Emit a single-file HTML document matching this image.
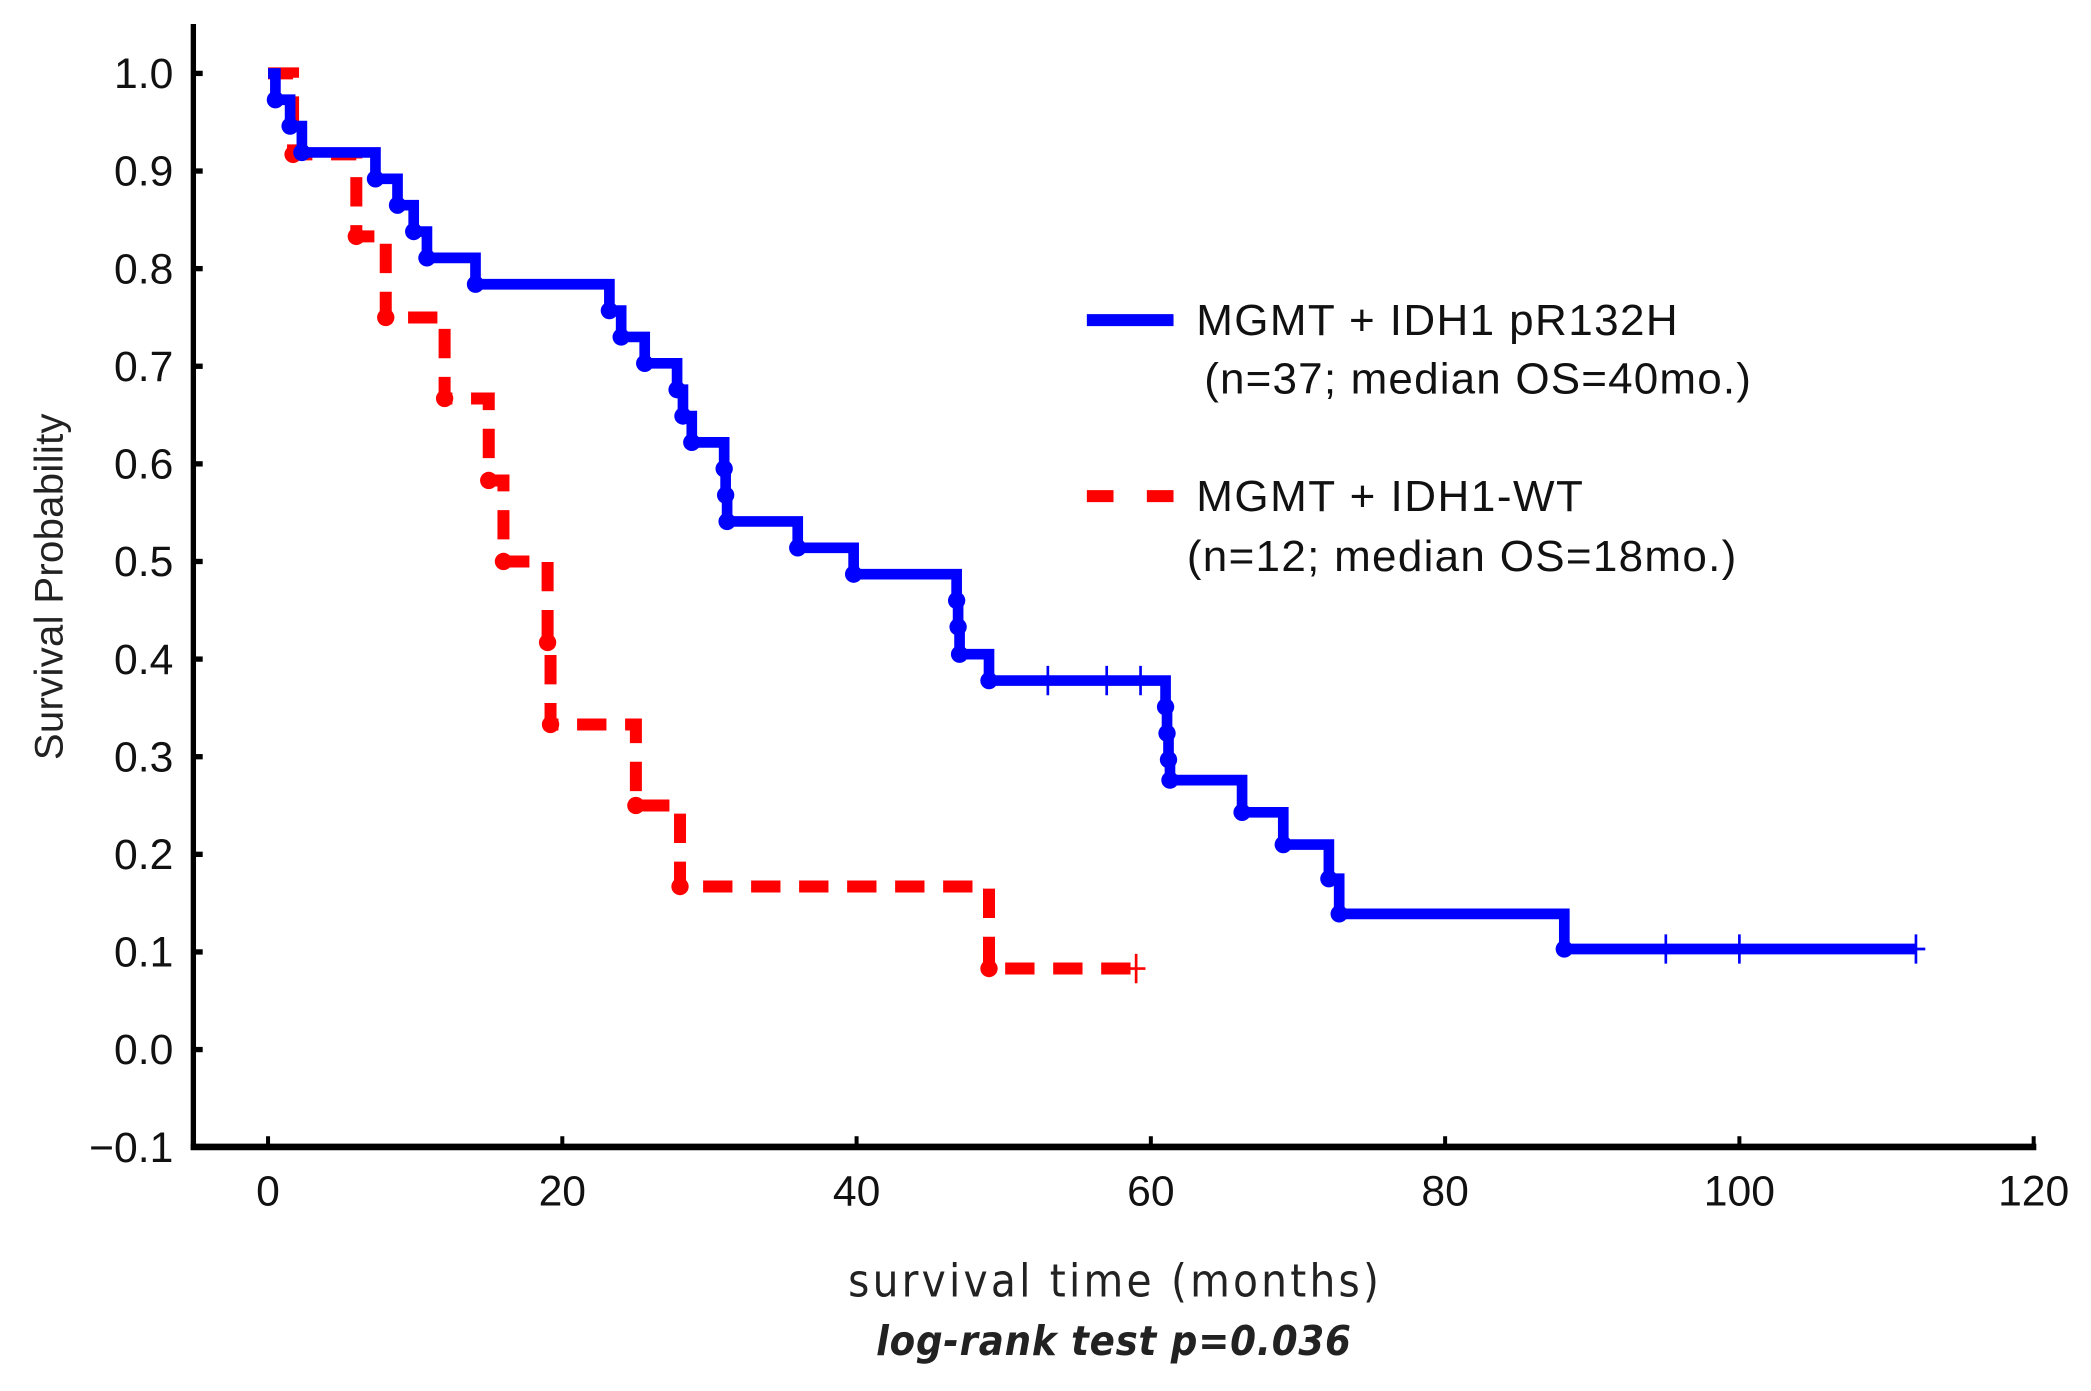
<!DOCTYPE html>
<html><head><meta charset="utf-8"><style>
html,body{margin:0;padding:0;background:#fff;}
svg{display:block;}
</style></head><body>
<svg id="chart" width="2091" height="1391" viewBox="0 0 1568 1043" xmlns="http://www.w3.org/2000/svg" font-family="'Liberation Sans', sans-serif">
<g id="axes"></g>
<g id="series"></g>
<g>
  <line x1="815" y1="240" x2="880" y2="240" stroke="#0000ff" stroke-width="9"/>
  <text x="897" y="251" font-size="33" fill="#111" textLength="361">MGMT + IDH1 pR132H</text>
  <text x="903" y="295" font-size="33" fill="#111" textLength="410">(n=37; median OS=40mo.)</text>
  <line x1="815" y1="372" x2="880" y2="372" stroke="#ff0000" stroke-width="9" stroke-dasharray="20 25"/>
  <text x="897" y="383" font-size="33" fill="#111" textLength="290">MGMT + IDH1-WT</text>
  <text x="890" y="428" font-size="33" fill="#111" textLength="412">(n=12; median OS=18mo.)</text>
</g>
<text transform="translate(47,440) rotate(-90)" text-anchor="middle" font-size="30" fill="#222" textLength="260">Survival Probability</text>
<text x="835" y="972" text-anchor="middle" font-size="34" fill="#222" font-family="'DejaVu Sans Condensed','Liberation Sans Narrow',sans-serif" textLength="398">survival time (months)</text>
<text x="835" y="1016" text-anchor="middle" font-size="31" font-weight="bold" font-style="italic" fill="#222" font-family="'DejaVu Sans Condensed','Liberation Sans Narrow',sans-serif" textLength="356">log-rank test p=0.036</text>
</svg>
<script>
const xTicks = [0,20,40,60,80,100,120];
const yTicks = [1.0,0.9,0.8,0.7,0.6,0.5,0.4,0.3,0.2,0.1,0.0,-0.1];
const blueTimes = [0,0.5,1.5,2.3,7.3,8.8,9.9,10.8,14.1,23.2,24,25.6,27.8,28.2,28.8,31,31.1,31.2,36,39.8,46.8,46.9,47,49,61,61.1,61.2,61.3,66.2,69,72.1,72.8,88.1];
const blueSurv  = [1,0.973,0.946,0.919,0.892,0.865,0.838,0.811,0.784,0.757,0.730,0.703,0.676,0.649,0.622,0.595,0.568,0.541,0.514,0.487,0.460,0.433,0.405,0.378,0.351,0.324,0.297,0.276,0.243,0.210,0.175,0.139,0.103];
const blueEnd = 112;
const blueCensor = [53,57,59.3,95,100,112];
const redTimes = [0,1.7,6,8,12,15,16,19,19.2,25,28,49];
const redSurv  = [1,0.917,0.833,0.75,0.667,0.583,0.5,0.417,0.333,0.25,0.167,0.083];
const redEnd = 59;
const redCensor = [59];

const NS='http://www.w3.org/2000/svg';
function X(t){return 201+(t-0)*(1525-201)/120;}
function Y(v){return 787-732*v;}
function mk(tag,attrs,parent){const e=document.createElementNS(NS,tag);for(const k in attrs)e.setAttribute(k,attrs[k]);parent.appendChild(e);return e;}
const axes=document.getElementById('axes'), series=document.getElementById('series');

let e=mk('line',{x1:145,y1:18,x2:145,y2:862,stroke:'#000','stroke-width':4},axes);


e=mk('line',{x1:143,y1:860,x2:1527,y2:860,stroke:'#000','stroke-width':5},axes);


yTicks.forEach(v=>{
  const t=mk('line',{x1:145,y1:Y(v),x2:152,y2:Y(v),stroke:'#000','stroke-width':4},axes);
  
  
  const l=mk('text',{x:130,y:Y(v)+11,'text-anchor':'end','font-size':32,fill:'#111'},axes);
  l.textContent=(v<0?'\u2212':'')+Math.abs(v).toFixed(1);
  
  
});
xTicks.forEach(v=>{
  const t=mk('line',{x1:X(v),y1:860,x2:X(v),y2:852,stroke:'#000','stroke-width':3},axes);
  
  
  const l=mk('text',{x:X(v),y:904,'text-anchor':'middle','font-size':32,fill:'#111'},axes);
  l.textContent=v;
  
  
});
function stepPath(times,surv,end){
  let d='M'+X(times[0])+','+Y(surv[0]);
  for(let i=1;i<times.length;i++){d+=' H'+X(times[i])+' V'+Y(surv[i]);}
  d+=' H'+X(end);return d;
}
function survAt(times,surv,t){let s=surv[0];for(let i=0;i<times.length;i++){if(times[i]<=t)s=surv[i];}return s;}
function drawSeries(times,surv,end,censor,color,dash,width,name){
  const p=mk('path',{d:stepPath(times,surv,end),fill:'none',stroke:color,'stroke-width':width,'stroke-linejoin':'miter'},series);
  if(dash)p.setAttribute('stroke-dasharray',dash);
  
  
  for(let i=1;i<times.length;i++){
    const c=mk('circle',{cx:X(times[i]),cy:Y(surv[i]),r:6.5,fill:color},series);
    
    
  }
  censor.forEach(t=>{
    const y=Y(survAt(times,surv,t));
    const c=mk('path',{d:'M'+(X(t)-7)+','+y+' H'+(X(t)+7)+' M'+X(t)+','+(y-11)+' V'+(y+11),stroke:color,'stroke-width':2,fill:'none'},series);
    
    
  });
}
drawSeries(redTimes,redSurv,redEnd,redCensor,'#ff0000','22 14',9,'red');
drawSeries(blueTimes,blueSurv,blueEnd,blueCensor,'#0000ff',null,8,'blue');
</script>
</body></html>
